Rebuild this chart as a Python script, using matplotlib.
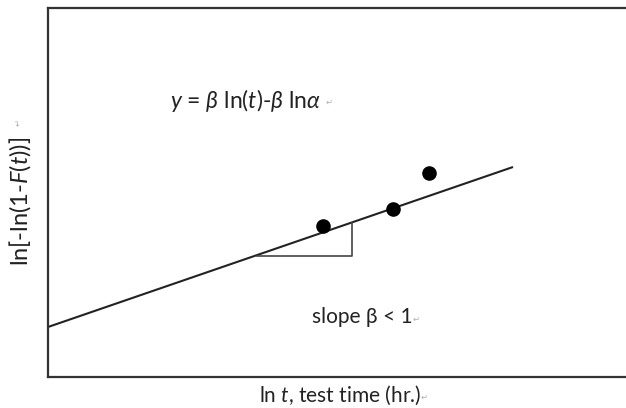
import matplotlib

matplotlib.use("Agg")
import matplotlib.pyplot as plt

plt.rcParams["font.family"] = ["Lato", "DejaVu Sans"]
plt.rcParams["mathtext.fontset"] = "custom"
plt.rcParams["mathtext.rm"] = "Lato"
plt.rcParams["mathtext.it"] = "Lato:italic"

INK = "#222222"
MARK = "#b0b0b0"

# fitted line endpoints (ln t, ln[-ln(1-F)])
line_x = [48, 513]
line_y = [81, 241]
# observed points
pts_x = [323, 393, 429]
pts_y = [182, 199, 235]
# slope triangle corners
tri_x = [257, 352, 352]
tri_y = [152, 152, 185]

fig = plt.figure(figsize=(6.26, 4.08), dpi=100)
ax = fig.add_axes([48 / 626, 31 / 408, 578 / 626, 369 / 408])
ax.set_xlim(48, 626)
ax.set_ylim(31, 400)
ax.set_xticks([])
ax.set_yticks([])
ax.spines["right"].set_visible(False)
for s in ("left", "top", "bottom"):
    ax.spines[s].set_linewidth(1.6)
    ax.spines[s].set_color("#333333")

ax.plot(line_x, line_y, color=INK, lw=1.5, solid_capstyle="butt")
ax.plot(tri_x, tri_y, color="#444444", lw=1.2)
ax.scatter(pts_x, pts_y, s=90, color="black", zorder=3)

ax.text(170, 308, r"$y$ = $\beta$ ln($t$)-$\beta$ ln$\alpha$", fontsize=16.5,
        color=INK, va="center", ha="left")
ax.text(326, 306, "↵", fontsize=6, color=MARK, va="center")
ax.text(312, 91, "slope β < 1", fontsize=15, color=INK, va="center")
ax.text(413, 89, "↵", fontsize=6, color=MARK, va="center")

fig.text(259 / 626, 13 / 408, r"ln $t$, test time (hr.)", fontsize=15,
         color=INK, va="center", ha="left")
fig.text(421 / 626, 11 / 408, "↵", fontsize=6, color=MARK, va="center")
fig.text(20 / 626, 207 / 408, r"ln[-ln(1-$F$($t$))]", fontsize=17, color=INK,
         rotation=90, va="center", ha="center")
fig.text(18 / 626, 285 / 408, "↵", fontsize=6, color=MARK, rotation=90,
         va="center", ha="center")

fig.savefig("out.png", dpi=100, facecolor="white")
